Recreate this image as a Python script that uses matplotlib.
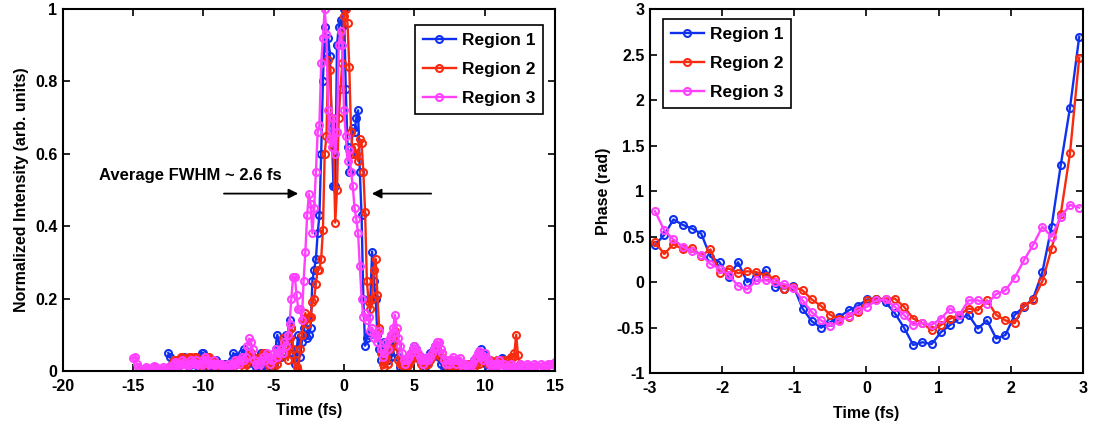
import numpy as np
import matplotlib
matplotlib.use("Agg")
import matplotlib.pyplot as plt
from matplotlib.ticker import FormatStrFormatter

plt.rcParams['font.family'] = ['Liberation Sans', 'DejaVu Sans']
plt.rcParams['font.weight'] = 'bold'
plt.rcParams['axes.unicode_minus'] = False

# retrieved temporal intensity, sampled every 0.125 fs
dt = 0.125
start1, start2, start3 = -12.5, -12.25, -15.0

intensity1 = [
    0.05, 0.04, 0.02, 0.03, 0.01, 0.02, 0.03, 0.02, 0.03, 0.04,
    0.03, 0.02, 0.03, 0.02, 0.01, 0.02, 0.03, 0.02, 0.04, 0.05,
    0.05, 0.03, 0.01, 0.0, 0.01, 0.02, 0.03, 0.03, 0.02, 0.01,
    0.0, 0.01, 0.02, 0.01, 0.0, 0.01, 0.03, 0.05, 0.04, 0.02,
    0.03, 0.04, 0.05, 0.06, 0.04, 0.02, 0.03, 0.05, 0.04, 0.02,
    0.01, 0.0, 0.01, 0.05, 0.04, 0.02, 0.01, 0.03, 0.02, 0.0,
    0.02, 0.06, 0.1, 0.08, 0.04, 0.05, 0.08, 0.1,
    0.08, 0.14, 0.12, 0.05, 0.02, 0.06, 0.1, 0.04, 0.08, 0.12,
    0.1, 0.09, 0.1, 0.12, 0.25, 0.28, 0.31, 0.38, 0.43, 0.6,
    0.8, 0.95, 0.88, 0.92, 0.87, 0.67, 0.51, 0.51, 0.9, 0.95,
    0.97, 0.95, 1.0, 0.78, 0.62, 0.55, 0.6, 0.67, 0.66, 0.7,
    0.72, 0.55, 0.43, 0.2, 0.07, 0.09, 0.1, 0.2, 0.33, 0.25,
    0.2, 0.1, 0.06, 0.03, 0.05, 0.08, 0.06, 0.03, 0.05, 0.04,
    0.08, 0.1, 0.07, 0.04, 0.01,
    0.0, 0.01, 0.0, 0.02, 0.03, 0.05, 0.06, 0.07, 0.06, 0.04,
    0.03, 0.04, 0.02, 0.01, 0.02, 0.03, 0.05, 0.04, 0.06, 0.07,
    0.06, 0.04, 0.02, 0.03, 0.01, 0.0, 0.01, 0.02, 0.01, 0.02,
    0.01, 0.0, 0.01, 0.02, 0.01, 0.01, 0.02, 0.01, 0.0, 0.01,
    0.02, 0.03, 0.02, 0.03, 0.04, 0.06, 0.05, 0.03, 0.02, 0.01,
    0.02, 0.01, 0.02, 0.01, 0.02, 0.03, 0.03, 0.035, 0.02, 0.01,
    0.02, 0.01,
]

intensity2 = [
    0.02, 0.03, 0.03, 0.02, 0.03, 0.04, 0.04, 0.03, 0.02, 0.03,
    0.04, 0.04, 0.03, 0.04, 0.04, 0.03, 0.02, 0.01, 0.02, 0.03,
    0.04, 0.04, 0.03, 0.03, 0.02, 0.01, 0.0, 0.01, 0.02, 0.01,
    0.0, 0.01, 0.02, 0.01, 0.0, 0.01, 0.02, 0.03, 0.02, 0.03,
    0.02, 0.01, 0.02, 0.03, 0.04, 0.05, 0.04, 0.03, 0.02, 0.03,
    0.04, 0.03, 0.05, 0.05, 0.04, 0.02, 0.01, 0.02, 0.01, 0.03,
    0.02, 0.04, 0.06, 0.09, 0.07, 0.05,
    0.03, 0.09, 0.12, 0.06, 0.03, 0.01, 0.0, 0.06, 0.1, 0.14,
    0.16, 0.13, 0.15, 0.15, 0.19, 0.2, 0.24, 0.28, 0.28, 0.31,
    0.39, 0.6, 0.65, 0.86, 0.83, 0.7, 0.62, 0.41, 0.5, 0.7,
    0.78, 0.85, 0.98, 1.0, 0.96, 0.84, 0.66, 0.6, 0.62, 0.6,
    0.58, 0.64, 0.63, 0.55, 0.44, 0.25, 0.19, 0.17, 0.2, 0.28,
    0.31, 0.21, 0.12, 0.05, 0.02, 0.01, 0.04, 0.02, 0.06, 0.1,
    0.08, 0.11, 0.07, 0.03, 0.02,
    0.02, 0.01, 0.0, 0.01, 0.02, 0.03, 0.04, 0.05, 0.05, 0.04,
    0.03, 0.02, 0.01, 0.02, 0.03, 0.02, 0.03, 0.04, 0.05, 0.05,
    0.06, 0.05, 0.04, 0.05, 0.03, 0.02, 0.01, 0.02, 0.01, 0.0,
    0.01, 0.02, 0.01, 0.01, 0.02, 0.01, 0.0, 0.01, 0.02, 0.01,
    0.02, 0.01, 0.02, 0.03, 0.02, 0.03, 0.04, 0.04, 0.03, 0.02,
    0.03, 0.02, 0.01, 0.02, 0.03, 0.02, 0.03, 0.03, 0.02, 0.03,
    0.02, 0.03, 0.04, 0.04, 0.05, 0.1, 0.045, 0.02,
]

intensity3 = [
    0.035, 0.04, 0.02, 0.01, 0.005, 0.0, 0.005, 0.01, 0.005, 0.0,
    0.005, 0.01, 0.015, 0.01, 0.005, 0.0, 0.005, 0.01, 0.005, 0.0,
    0.01, 0.015, 0.01, 0.02, 0.025, 0.02, 0.015, 0.02, 0.03, 0.025,
    0.02, 0.015, 0.02, 0.03, 0.025, 0.02, 0.03, 0.02, 0.01, 0.02,
    0.03, 0.04, 0.03, 0.02, 0.01, 0.02, 0.03, 0.02, 0.01, 0.02,
    0.02, 0.01, 0.005, 0.01, 0.02, 0.015, 0.01, 0.02, 0.03, 0.025,
    0.02, 0.03, 0.04, 0.03, 0.04, 0.07, 0.09, 0.08, 0.06, 0.03,
    0.02, 0.01, 0.02, 0.03, 0.04, 0.03, 0.05, 0.04, 0.02, 0.03,
    0.05, 0.06, 0.04, 0.05, 0.06, 0.05, 0.08, 0.07,
    0.1, 0.13, 0.2, 0.26, 0.26, 0.21, 0.17, 0.17, 0.14, 0.25,
    0.33, 0.43, 0.49, 0.46, 0.38, 0.45, 0.55, 0.66, 0.68, 0.85,
    0.92, 1.0, 0.93, 0.72, 0.64, 0.62, 0.7, 0.6, 0.66, 0.9,
    0.94, 0.9, 0.72, 0.65, 0.58, 0.61, 0.55, 0.51, 0.45, 0.42,
    0.38, 0.29, 0.2, 0.15, 0.16, 0.14, 0.15, 0.11, 0.12, 0.09,
    0.1, 0.08, 0.11, 0.06, 0.04, 0.05, 0.08, 0.06, 0.09, 0.1,
    0.12, 0.155, 0.12, 0.09, 0.07,
    0.05, 0.03, 0.02, 0.03, 0.04, 0.05, 0.06, 0.07, 0.06, 0.05,
    0.04, 0.03, 0.02, 0.03, 0.04, 0.03, 0.04, 0.05, 0.06, 0.07,
    0.08, 0.08, 0.06, 0.05, 0.03, 0.02, 0.03, 0.02, 0.03, 0.04,
    0.03, 0.02, 0.03, 0.035, 0.02, 0.01, 0.02, 0.01, 0.005, 0.01,
    0.02, 0.03, 0.04, 0.05, 0.055, 0.04, 0.03, 0.05, 0.04, 0.03,
    0.02, 0.01, 0.02, 0.01, 0.02, 0.03, 0.02, 0.01, 0.02, 0.01,
    0.005, 0.01, 0.02, 0.015, 0.01, 0.005, 0.01, 0.02, 0.015, 0.005,
    0.01, 0.02, 0.015, 0.005, 0.01, 0.02, 0.015, 0.005, 0.01, 0.02,
    0.015, 0.005, 0.01, 0.02, 0.02, 0.01, 0.02, 0.025,
]

# retrieved temporal phase (rad) in the central window
phase_t0, phase_t1 = -2.93, 2.95
phase1 = [0.41, 0.52, 0.69, 0.63, 0.59, 0.535, 0.28, 0.22, 0.06, 0.22,
          0.0, 0.06, 0.13, -0.05, -0.07, -0.04, -0.29, -0.43, -0.5, -0.44,
          -0.38, -0.31, -0.26, -0.19, -0.18, -0.22, -0.34, -0.5, -0.69, -0.66,
          -0.68, -0.55, -0.47, -0.4, -0.36, -0.51, -0.42, -0.62, -0.58, -0.36,
          -0.27, -0.18, 0.11, 0.61, 1.29, 1.92, 2.70]
phase2 = [0.44, 0.31, 0.42, 0.36, 0.38, 0.29, 0.36, 0.1, 0.15, 0.1,
          0.12, 0.11, 0.07, 0.04, -0.07, -0.05, -0.09, -0.19, -0.26, -0.36,
          -0.4, -0.38, -0.33, -0.2, -0.19, -0.18, -0.18, -0.27, -0.4, -0.45,
          -0.53, -0.47, -0.4, -0.36, -0.29, -0.31, -0.2, -0.36, -0.42, -0.45,
          -0.26, -0.2, 0.01, 0.37, 0.75, 1.42, 2.47]
phase3 = [0.78, 0.57, 0.47, 0.39, 0.34, 0.3, 0.2, 0.15, 0.08, -0.04,
          -0.08, 0.02, 0.02, 0.0, -0.02, -0.06, -0.2, -0.33, -0.42, -0.48,
          -0.43, -0.37, -0.31, -0.27, -0.2, -0.19, -0.27, -0.36, -0.47, -0.45,
          -0.47, -0.4, -0.29, -0.36, -0.2, -0.2, -0.24, -0.13, -0.09, 0.05,
          0.24, 0.41, 0.61, 0.5, 0.72, 0.85, 0.82]

labels = ['Region 1', 'Region 2', 'Region 3']
colors = ['#1030f0', '#f82a10', '#ff40ff']

t1 = start1 + dt * np.arange(len(intensity1))
t2 = start2 + dt * np.arange(len(intensity2))
t3 = start3 + dt * np.arange(len(intensity3))
tp = np.linspace(phase_t0, phase_t1, len(phase1))

style = dict(marker='o', markerfacecolor='none', markersize=5,
             markeredgewidth=1.5, linewidth=1.7)

fig = plt.figure(figsize=(10.93, 4.25), dpi=100)
ax1 = fig.add_axes([0.0576, 0.127, 0.450, 0.852])
ax2 = fig.add_axes([0.5947, 0.122, 0.396, 0.856])

for t, y, c, lab in zip([t1, t2, t3], [intensity1, intensity2, intensity3], colors, labels):
    ax1.plot(t, y, color=c, label=lab, **style)

for y, c, lab in zip([phase1, phase2, phase3], colors, labels):
    ax2.plot(tp, y, color=c, label=lab, **style)

ax1.set_xlim(-20, 15)
ax1.set_ylim(0, 1)
ax1.set_xticks(np.arange(-20, 16, 5))
ax1.set_yticks(np.arange(0, 1.01, 0.2))
ax1.yaxis.set_major_formatter(FormatStrFormatter('%g'))
ax1.set_xlabel('Time (fs)', fontsize=11.5, fontweight='bold', labelpad=6)
ax1.set_ylabel('Normalized Intensity (arb. units)', fontsize=11.5, fontweight='bold', labelpad=4)

ax2.set_xlim(-3, 3)
ax2.set_ylim(-1, 3)
ax2.set_xticks(np.arange(-3, 4, 1))
ax2.set_yticks(np.arange(-1, 3.01, 0.5))
ax2.yaxis.set_major_formatter(FormatStrFormatter('%g'))
ax2.set_xlabel('Time (fs)', fontsize=11.5, fontweight='bold', labelpad=7)
ax2.set_ylabel('Phase (rad)', fontsize=11.5, fontweight='bold', labelpad=4)

for ax in (ax1, ax2):
    ax.tick_params(direction='in', length=5, width=1.2, top=True, right=True,
                   labelsize=11.5)
    ax.tick_params(axis='x', pad=6)
    ax.tick_params(axis='y', pad=4)
    for lbl in ax.get_xticklabels() + ax.get_yticklabels():
        lbl.set_fontweight('bold')
    for sp in ax.spines.values():
        sp.set_linewidth(1.5)

# FWHM annotation
ax1.text(-17.4, 0.54, 'Average FWHM ~ 2.6 fs', fontsize=12, fontweight='bold',
         ha='left', va='center')
ax1.annotate('', xy=(-3.06, 0.49), xytext=(-8.74, 0.49),
             arrowprops=dict(arrowstyle='-|>', color='black', lw=1.3, mutation_scale=14))
ax1.annotate('', xy=(1.78, 0.49), xytext=(6.4, 0.49),
             arrowprops=dict(arrowstyle='-|>', color='black', lw=1.3, mutation_scale=14))

leg_kw = dict(numpoints=1, fancybox=False, framealpha=1, edgecolor='black',
              prop={'weight': 'bold', 'size': 12.5}, handlelength=1.9,
              borderpad=0.45, labelspacing=0.8, handletextpad=0.35,
              borderaxespad=0)
lg1 = ax1.legend(loc='upper right', bbox_to_anchor=(0.976, 0.955), **leg_kw)
lg2 = ax2.legend(loc='upper left', bbox_to_anchor=(0.03, 0.973), **leg_kw)
for lg in (lg1, lg2):
    lg.get_frame().set_linewidth(1.2)

fig.savefig('out.png', dpi=100)
